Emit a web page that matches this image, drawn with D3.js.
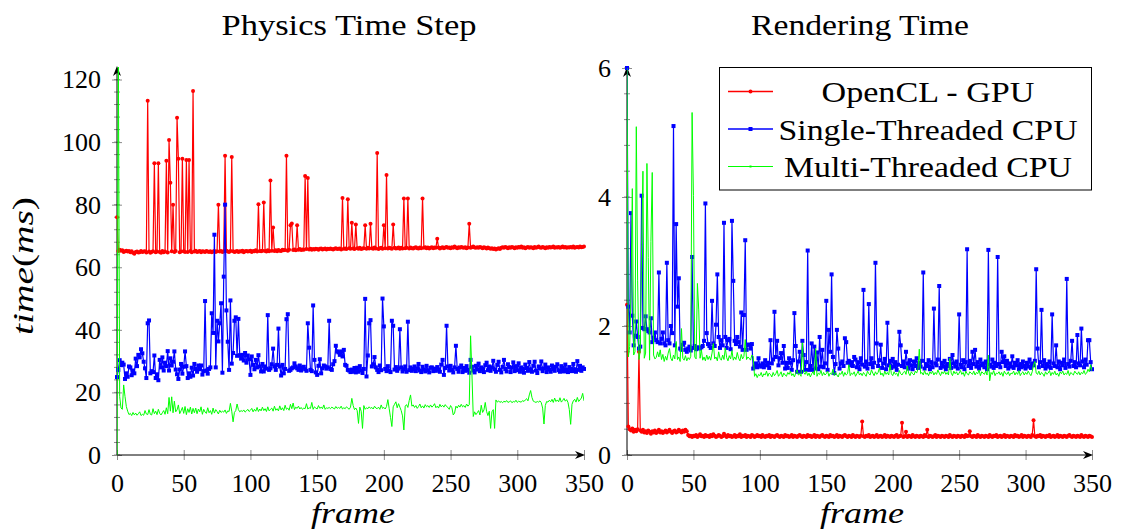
<!DOCTYPE html>
<html>
<head>
<meta charset="utf-8">
<script src="https://cdn.jsdelivr.net/npm/d3@7"></script>
<style>
  body { margin: 0; background: #fff; }
  svg { display: block; }
  svg text { font-family: 'Liberation Serif', 'Times New Roman', Times, 'DejaVu Serif', serif; font-size: 29px; fill: #000; }
</style>
</head>
<body>
<svg id="chart" width="1124" height="530"></svg>
<script>
// frame 0..350, one value per frame
const physGpu = [
  76,65.2,65.6,65.3,65.4,64.9,65.1,65.3,65.0,65.2,
  64.8,65.1,64.6,64.3,64.9,65.0,64.7,64.8,65.2,64.9,
  65.0,65.1,64.7,113.2,65.0,64.6,64.9,65.1,93.2,64.8,
  65.0,93.2,64.9,64.6,65.2,64.8,65.0,94.0,64.7,100.7,
  87.0,65.1,80.0,64.9,65.2,107.8,94.7,64.8,65.0,94.7,
  65.1,64.9,94.3,64.9,94.3,65.2,64.8,116.3,65.0,65.3,
  64.9,65.0,65.2,64.8,65.1,65.0,64.9,65.2,65.0,64.9,
  65.1,64.8,65.0,65.2,64.9,65.1,80.0,65.0,65.2,64.9,
  65.1,95.6,65.3,65.0,64.9,65.2,95.2,65.1,64.9,65.0,
  65.2,64.9,65.1,65.0,65.3,64.8,65.1,65.2,65.0,65.1,
  65.3,64.9,65.2,65.1,65.4,65.0,80.1,65.2,65.1,65.3,
  80.7,65.2,65.0,65.4,65.1,87.7,65.3,72.7,65.2,65.4,
  65.1,65.5,65.3,65.2,65.6,65.4,65.5,95.6,65.3,65.6,
  73.4,74.0,65.5,65.7,65.4,73.4,65.6,65.8,65.5,65.7,
  65.6,89.2,65.8,88.5,65.7,65.9,65.6,65.8,65.7,65.9,
  65.8,65.6,65.9,66.0,65.7,65.8,66.0,65.7,65.9,65.8,
  66.0,65.8,65.7,65.9,66.1,65.8,65.9,66.0,65.7,82.1,
  65.9,66.0,65.8,81.7,66.1,65.9,74.2,66.0,65.8,73.7,
  66.1,65.9,66.2,65.8,66.0,66.1,73.4,65.9,66.2,66.0,
  73.9,66.1,65.9,66.3,66.0,96.5,65.8,66.1,66.2,65.9,
  73.4,66.1,89.5,66.0,66.2,66.1,65.9,73.7,66.2,66.0,
  66.1,66.3,65.9,66.2,66.0,82.0,66.1,66.2,82.0,66.0,
  66.3,66.1,66.0,66.2,66.4,66.1,66.0,66.3,66.1,82.0,
  66.2,66.4,66.1,66.3,66.0,66.2,66.4,66.1,66.3,66.2,
  69.1,66.3,66.0,66.2,66.4,66.1,66.3,66.5,66.2,66.3,
  66.1,66.4,66.2,66.6,66.3,66.1,66.4,66.2,66.5,66.3,
  66.2,66.4,66.1,66.3,73.9,66.2,66.4,66.6,66.3,66.2,
  66.4,66.2,66.5,66.3,66.1,66.4,66.2,66.0,66.3,66.1,
  65.9,66.1,65.8,66.0,65.7,65.9,66.1,65.8,66.2,66.4,
  66.2,66.5,66.3,66.1,66.4,66.2,66.5,66.3,66.1,66.4,
  66.2,66.5,66.3,66.6,66.2,66.4,66.1,66.3,66.5,66.2,
  66.4,66.3,66.1,66.5,66.2,66.4,66.6,66.3,66.2,66.5,
  66.3,66.1,66.4,66.2,66.5,66.3,66.4,66.6,66.2,66.4,
  66.3,66.5,66.2,66.4,66.6,66.3,66.5,66.2,66.4,66.3,
  66.5,66.3,66.6,66.2,66.4,66.5,66.3,66.6,66.4,66.5,
  66.6
];
const physSingle = [
  24.9,27.2,30.3,28.7,29.5,28.9,24.3,26.1,25.0,28.3,
  28.0,25.5,27.0,26.1,30.8,28.4,32.0,31.2,33.8,32.5,
  29.8,27.7,24.6,42.1,43.0,26.1,26.8,26.5,31.8,24.6,
  25.8,23.9,30.4,28.0,31.2,27.0,29.5,28.4,33.2,27.0,
  30.9,28.6,29.8,33.1,27.3,25.8,24.3,27.3,29.1,26.0,
  28.2,33.1,28.4,24.6,26.1,25.0,27.9,25.4,29.1,27.5,
  26.6,28.6,27.4,28.6,25.7,26.8,49.2,27.0,26.0,27.5,
  28.0,45.3,39.0,70.4,28.0,42.9,36.3,42.1,48.5,26.3,
  57.0,80.0,46.2,36.2,27.2,49.4,29.2,32.6,42.9,44.0,
  31.7,43.5,31.9,30.8,32.0,30.2,32.6,29.5,31.8,30.6,
  25.6,31.5,28.8,27.4,30.4,28.0,31.9,28.3,26.7,29.1,
  26.7,28.3,27.6,44.7,27.2,27.7,29.0,34.0,28.3,27.2,
  28.8,40.4,28.3,25.4,28.8,26.1,27.5,43.4,45.0,26.9,
  27.2,27.7,28.0,29.3,28.3,27.7,27.2,28.6,27.0,27.9,
  28.2,27.4,26.9,42.1,34.3,27.2,26.8,47.8,30.4,26.4,
  25.6,28.5,30.6,26.1,27.7,28.6,28.3,27.6,28.0,42.9,
  27.5,27.2,29.0,30.0,34.9,33.1,32.8,32.0,33.1,31.5,
  33.6,28.8,28.5,27.2,27.0,26.5,27.3,26.6,27.8,26.4,
  27.9,26.6,28.4,27.1,26.2,27.5,49.9,25.1,31.8,42.1,
  43.1,28.3,29.0,31.3,28.0,27.2,26.5,28.6,27.1,50.0,
  41.1,27.5,26.8,28.4,27.0,26.5,42.9,41.3,27.3,28.1,
  26.9,27.6,40.2,28.0,26.7,27.4,28.3,26.6,42.6,27.1,
  28.0,26.9,27.5,28.3,26.8,27.7,29.1,27.0,26.5,28.2,
  27.3,26.7,28.5,27.1,26.4,27.9,28.0,26.8,27.6,26.9,
  28.1,27.4,26.6,28.9,30.4,25.6,27.8,41.3,28.3,27.0,
  28.5,27.2,26.4,28.0,34.9,27.5,26.6,27.9,28.6,26.5,
  27.8,26.9,28.4,27.2,26.3,30.4,28.2,27.0,26.4,28.5,
  27.3,29.2,26.8,28.0,27.5,26.5,28.7,29.5,27.1,28.3,
  26.9,28.0,30.1,27.4,26.6,28.8,29.8,27.2,26.4,28.2,
  30.4,27.5,26.7,29.0,28.1,26.5,27.9,29.6,26.8,28.4,
  27.1,29.3,26.6,28.0,27.5,26.3,28.9,27.8,26.9,29.7,
  27.4,26.6,28.5,29.8,27.0,26.2,28.3,27.6,29.9,26.8,
  27.7,28.9,26.5,28.0,27.3,26.6,28.6,27.5,26.9,28.2,
  29.0,27.1,26.6,28.4,27.8,26.7,28.9,27.3,26.5,28.1,
  27.6,26.8,29.1,27.4,26.6,30.0,27.2,28.5,26.9,28.0,
  27.5
];
const physMulti = [
  0,130,18.7,15.0,14.6,22.4,18.7,15.5,14.0,12.9,
  13.3,12.6,13.6,12.8,13.4,12.7,13.2,13.8,12.6,13.0,
  12.7,14.2,13.1,12.9,14.5,13.0,12.8,14.8,13.2,14.0,
  12.9,14.6,13.3,12.8,13.5,14.2,13.0,15.1,13.2,18.4,
  14.0,18.6,13.5,17.2,13.8,14.4,16.0,13.2,14.1,15.2,
  13.3,15.5,12.9,14.8,13.6,15.3,13.1,14.9,13.5,15.0,
  13.2,14.7,13.8,15.4,13.0,14.6,13.7,13.3,15.1,13.5,
  14.2,13.0,15.0,13.4,14.5,13.9,13.1,14.3,13.6,14.0,
  13.7,14.4,13.3,14.1,13.9,16.5,14.0,10.6,13.6,14.2,
  16.3,14.5,13.8,14.2,13.9,14.4,13.7,14.1,14.6,13.9,
  14.3,14.9,13.8,14.6,14.0,15.2,13.9,14.7,14.1,15.3,
  14.2,14.8,13.9,15.4,14.1,14.6,15.0,14.0,15.6,14.3,
  14.8,14.1,15.7,14.4,15.1,14.2,15.9,14.6,15.0,14.3,
  16.2,14.8,16.6,14.5,15.3,14.9,15.6,14.7,15.2,14.6,
  15.0,14.8,16.4,14.7,15.1,14.9,16.8,14.6,15.4,15.0,
  14.7,15.8,14.9,15.3,14.8,16.0,14.6,15.1,14.9,15.2,
  14.8,15.3,15.0,14.7,15.5,14.9,15.2,14.9,15.6,14.7,
  15.1,14.8,15.4,15.0,14.6,15.3,18.1,15.8,14.5,15.0,
  14.2,10.1,15.3,14.0,8.5,15.8,14.6,15.1,14.8,15.4,
  14.9,15.2,14.7,15.6,15.0,14.8,15.3,14.6,16.0,14.9,
  15.2,14.7,15.5,17.7,14.8,12.0,9.1,15.4,16.2,17.0,
  15.1,16.4,15.3,14.2,12.5,8.0,15.6,16.1,15.2,17.4,
  19.2,15.6,16.0,15.2,15.8,14.9,15.5,16.3,15.1,15.7,
  15.0,16.1,15.4,15.8,15.2,16.0,15.3,15.7,16.4,15.1,
  15.6,15.0,16.2,15.4,15.9,15.3,16.1,15.5,15.2,14.6,
  15.8,15.1,12.8,13.4,15.6,15.0,15.9,15.3,16.2,15.4,
  15.8,15.2,16.3,15.6,16.1,38.1,26.1,12.3,13.8,12.9,
  13.5,14.2,12.8,15.9,13.6,14.4,16.8,13.9,12.6,14.0,
  8.5,13.8,14.5,8.5,17.6,16.9,17.3,16.8,17.1,16.7,
  17.2,16.9,17.4,16.8,17.0,17.3,16.7,17.1,16.9,17.5,
  16.8,17.2,17.0,16.9,17.4,17.1,17.6,18.0,17.3,19.2,
  20.6,18.4,17.2,17.0,16.8,17.1,16.9,17.3,16.7,15.0,
  9.9,15.8,17.1,16.9,17.5,17.0,17.8,16.8,18.2,17.1,
  17.6,17.0,18.3,16.9,17.4,18.1,17.2,17.7,16.8,14.5,
  9.8,16.2,17.3,17.8,16.9,18.4,17.1,17.6,18.2,19.7,
  17.3
];
const rendGpu = [
  2.33,0.44,0.40,0.38,0.41,0.36,0.39,0.37,0.40,1.60,
  0.38,0.36,0.39,0.35,0.37,0.34,0.38,0.36,0.33,0.37,
  0.35,0.38,0.34,0.36,0.39,0.35,0.37,0.34,0.36,0.38,
  0.35,0.37,0.39,0.36,0.34,0.37,0.38,0.35,0.36,0.39,
  0.37,0.35,0.38,0.36,0.39,0.37,0.31,0.29,0.30,0.28,
  0.30,0.29,0.31,0.28,0.30,0.32,0.29,0.30,0.28,0.31,
  0.29,0.30,0.28,0.31,0.29,0.32,0.30,0.28,0.29,0.31,
  0.30,0.28,0.29,0.33,0.30,0.28,0.31,0.29,0.30,0.28,
  0.29,0.31,0.28,0.30,0.29,0.32,0.28,0.30,0.29,0.31,
  0.28,0.30,0.29,0.28,0.31,0.30,0.28,0.29,0.31,0.29,
  0.30,0.28,0.31,0.29,0.28,0.30,0.29,0.31,0.28,0.30,
  0.29,0.28,0.30,0.31,0.29,0.28,0.30,0.29,0.28,0.31,
  0.29,0.30,0.28,0.29,0.31,0.28,0.30,0.29,0.28,0.30,
  0.31,0.29,0.28,0.30,0.29,0.28,0.31,0.29,0.30,0.28,
  0.29,0.31,0.28,0.30,0.29,0.28,0.30,0.31,0.29,0.28,
  0.30,0.29,0.28,0.31,0.29,0.30,0.28,0.29,0.31,0.28,
  0.30,0.29,0.28,0.30,0.31,0.29,0.28,0.30,0.29,0.28,
  0.31,0.29,0.28,0.30,0.29,0.28,0.30,0.52,0.29,0.28,
  0.30,0.29,0.31,0.28,0.29,0.30,0.28,0.29,0.31,0.28,
  0.29,0.30,0.28,0.29,0.31,0.28,0.30,0.29,0.28,0.30,
  0.29,0.28,0.30,0.31,0.28,0.29,0.30,0.50,0.28,0.29,
  0.36,0.28,0.30,0.29,0.28,0.31,0.29,0.28,0.30,0.29,
  0.28,0.30,0.29,0.28,0.31,0.29,0.39,0.28,0.30,0.29,
  0.28,0.29,0.31,0.28,0.30,0.29,0.28,0.30,0.29,0.28,
  0.30,0.29,0.28,0.31,0.29,0.28,0.30,0.29,0.28,0.30,
  0.29,0.28,0.30,0.29,0.28,0.31,0.29,0.30,0.37,0.29,
  0.28,0.30,0.29,0.28,0.31,0.29,0.28,0.30,0.29,0.28,
  0.30,0.29,0.28,0.31,0.29,0.28,0.30,0.29,0.31,0.28,
  0.29,0.30,0.28,0.29,0.31,0.28,0.30,0.29,0.28,0.30,
  0.29,0.28,0.31,0.29,0.30,0.28,0.29,0.31,0.28,0.30,
  0.29,0.28,0.30,0.29,0.28,0.31,0.54,0.29,0.28,0.30,
  0.29,0.31,0.28,0.30,0.29,0.28,0.30,0.29,0.31,0.28,
  0.29,0.30,0.28,0.29,0.31,0.28,0.30,0.29,0.28,0.30,
  0.29,0.28,0.30,0.31,0.29,0.28,0.30,0.29,0.28,0.30,
  0.29,0.28,0.31,0.29,0.28,0.30,0.29,0.28,0.30,0.29,
  0.28
];
const rendSingle = [
  6.0,2.3,1.9,3.75,2.16,1.7,1.85,2.07,1.83,1.65,
  1.68,4.02,1.97,1.95,2.15,1.95,1.92,1.9,2.12,1.75,
  1.82,1.9,1.78,1.75,2.83,1.73,1.8,1.9,1.73,1.7,
  2.98,1.78,1.73,2.0,1.89,5.1,1.7,3.58,2.3,2.74,
  1.65,1.63,1.71,1.74,1.63,1.6,1.65,1.68,1.62,3.07,
  1.66,1.69,1.64,1.67,1.66,1.65,1.67,1.69,1.77,3.9,
  1.89,1.72,1.69,1.66,2.39,1.73,1.69,2.02,2.8,1.83,
  1.66,1.78,1.7,3.6,1.83,1.66,1.78,1.8,1.64,3.63,
  2.7,1.77,1.72,1.83,1.75,1.68,2.21,1.63,2.17,3.33,
  1.63,1.71,1.71,1.65,1.72,1.34,1.37,1.42,1.36,1.5,
  1.39,1.37,1.42,1.36,1.47,1.39,1.43,1.35,1.78,1.42,
  1.48,2.22,1.52,1.77,1.39,1.5,1.58,1.43,1.69,1.34,
  1.43,1.35,1.5,1.43,1.32,1.47,2.2,1.69,1.29,1.45,
  1.6,1.29,1.77,1.55,1.32,1.44,3.17,1.32,1.38,1.73,
  1.32,1.68,1.34,1.59,1.33,1.83,1.37,1.63,1.36,1.42,
  2.39,1.32,1.94,1.6,2.8,1.52,1.27,1.41,1.94,1.65,
  1.34,1.42,1.45,1.38,1.81,1.75,1.43,1.46,1.39,1.44,
  1.38,1.52,1.48,1.36,1.44,1.33,1.5,1.4,2.56,1.37,
  1.45,1.34,2.34,1.41,1.5,1.36,1.43,2.98,1.73,1.38,
  1.47,1.71,1.35,1.42,1.49,1.33,2.05,1.39,1.46,1.35,
  1.49,1.37,1.44,1.32,1.4,1.91,1.7,1.38,1.45,1.36,
  1.6,1.42,1.34,1.47,1.39,1.33,1.45,1.38,1.5,1.35,
  1.43,1.37,1.46,2.83,1.34,1.41,1.38,1.47,1.33,1.44,
  1.36,2.27,1.42,1.39,1.48,2.62,1.35,1.43,1.37,1.46,
  1.33,1.41,1.38,1.49,1.35,1.55,1.42,1.37,1.45,1.34,
  2.18,1.4,1.36,1.47,1.33,1.44,3.19,1.38,1.46,1.35,
  1.6,1.41,1.63,1.37,1.44,1.34,1.48,1.39,1.42,1.36,
  1.45,1.33,3.18,1.4,1.37,1.48,1.35,1.43,1.38,3.07,
  1.41,1.36,1.6,1.44,1.53,1.38,1.46,1.34,1.42,1.37,
  1.53,1.35,1.43,1.39,1.47,1.33,1.41,1.36,1.45,1.38,
  1.34,1.43,1.37,1.48,1.35,1.42,1.39,1.46,2.88,1.65,
  1.36,1.44,2.25,1.38,1.47,1.34,1.41,1.37,1.45,1.35,
  2.18,1.42,1.38,1.7,1.36,1.45,1.33,1.43,1.39,1.48,
  1.35,2.73,1.41,1.37,1.46,1.77,1.38,1.44,1.36,1.86,
  1.42,1.39,1.96,1.45,1.36,1.48,1.4,1.78,1.78,1.44,
  1.33
];
const rendMulti = [
  6.0,1.52,1.68,2.5,4.13,1.55,1.6,5.09,2.7,1.48,
  1.62,3.26,4.4,1.5,1.58,4.52,3.06,1.47,3.31,4.38,
  1.55,1.49,1.51,1.6,1.52,1.63,1.48,1.56,1.45,1.53,
  1.47,1.58,1.65,1.5,1.46,1.55,1.49,1.76,1.48,1.52,
  1.45,1.96,1.5,1.47,1.54,1.46,1.51,1.48,1.53,5.31,
  4.02,1.52,1.49,2.66,2.25,1.5,1.63,1.47,1.52,1.46,
  1.55,1.48,1.53,1.47,1.58,1.73,1.49,1.52,1.46,1.6,
  1.5,1.47,1.55,1.48,1.66,1.51,1.46,1.54,1.49,1.62,
  1.47,1.52,1.48,1.59,1.5,1.46,1.56,1.49,1.53,1.79,
  1.48,1.52,1.5,1.47,1.55,1.53,1.22,1.26,1.2,1.25,
  1.23,1.28,1.21,1.26,1.24,1.3,1.22,1.27,1.25,1.21,
  1.28,1.23,1.26,1.31,1.22,1.25,1.29,1.21,1.27,1.24,
  1.22,1.28,1.25,1.3,1.23,1.26,1.21,1.27,1.32,1.24,
  1.26,1.22,1.74,1.28,1.25,1.3,1.23,1.27,1.21,1.26,
  1.29,1.24,1.65,1.22,1.27,1.25,1.31,1.23,1.28,1.24,
  1.26,1.3,1.22,1.27,1.25,1.33,1.23,1.28,1.24,1.21,
  1.27,1.25,1.3,1.22,1.28,1.24,1.26,1.4,1.23,1.27,
  1.25,1.29,1.22,1.26,1.3,1.24,1.27,1.23,1.28,1.25,
  1.22,1.3,1.26,1.24,1.32,1.27,1.23,1.29,1.25,1.28,
  1.35,1.24,1.27,1.22,1.3,1.25,1.28,1.24,1.4,1.26,
  1.23,1.29,1.25,1.27,1.22,1.31,1.26,1.24,1.28,1.3,
  1.25,1.38,1.27,1.23,1.29,1.26,1.24,1.3,1.27,1.33,
  1.64,1.26,1.28,1.24,1.31,1.25,1.27,1.23,1.29,1.26,
  1.3,1.24,1.28,1.25,1.32,1.27,1.23,1.29,1.26,1.3,
  1.25,1.28,1.24,1.5,1.27,1.23,1.3,1.26,1.29,1.24,
  1.27,1.31,1.25,1.28,1.22,1.3,1.26,1.24,1.29,1.27,
  1.25,1.3,1.24,1.28,1.26,1.32,1.23,1.29,1.27,1.25,
  1.3,1.24,1.55,1.15,1.28,1.25,1.31,1.23,1.27,1.26,
  1.29,1.24,1.28,1.22,1.3,1.26,1.25,1.29,1.23,1.27,
  1.26,1.3,1.24,1.28,1.25,1.31,1.23,1.27,1.29,1.24,
  1.28,1.25,1.3,1.26,1.23,1.29,1.4,1.45,1.27,1.25,
  1.3,1.24,1.28,1.26,1.22,1.29,1.25,1.27,1.31,1.23,
  1.28,1.25,1.3,1.24,1.27,1.22,1.29,1.26,1.3,1.24,
  1.27,1.25,1.31,1.23,1.28,1.26,1.24,1.3,1.27,1.25,
  1.29,1.24,1.28,1.26,1.31,1.25,1.27,1.33,1.29,1.4,
  1.3
];

const xTicks = [0, 50, 100, 150, 200, 250, 300, 350];
const physTicks = [0, 20, 40, 60, 80, 100, 120];
const rendTicks = [0, 2, 4, 6];
const seriesNames = ['OpenCL - GPU', 'Single-Threaded CPU', 'Multi-Threaded CPU'];
const seriesColors = ['#ff0000', '#0000ff', '#00ff00'];

const serif = "'Liberation Serif', 'Times New Roman', Times, 'DejaVu Serif', serif";
const tickFont = 26;
const svg = d3.select('#chart');
const axisY = 455;

function drawPanel(p) {
  const x = d3.scaleLinear().domain([0, 350]).range([p.left, p.right]);
  const y = d3.scaleLinear().domain([0, p.ymax]).range([axisY, p.top]);
  const g = svg.append('g');

  svg.append('clipPath').attr('id', 'clip-' + p.id)
    .append('rect')
    .attr('x', p.left).attr('y', p.top)
    .attr('width', p.right - p.left).attr('height', axisY - p.top);

  // minor ticks on y
  const minors = d3.range(0, p.minorMax + 1e-6, p.minorStep);
  g.append('g').selectAll('line').data(minors).join('line')
    .attr('x1', p.left - 3).attr('x2', p.left + 3)
    .attr('y1', (d) => y(d)).attr('y2', (d) => y(d))
    .attr('stroke', '#8c8c8c').attr('stroke-width', 1);

  // y axis with major ticks
  const ya = g.append('g').attr('transform', `translate(${p.left},0)`)
    .call(d3.axisLeft(y).tickValues(p.ticks).tickSize(5).tickPadding(11).tickFormat(d3.format('d')));
  ya.attr('font-family', serif);
  ya.select('.domain').remove();
  ya.selectAll('.tick line').attr('x1', 5).attr('stroke', '#8c8c8c');
  ya.selectAll('.tick text').style('font-size', tickFont + 'px');

  // x axis
  const xa = g.append('g').attr('transform', `translate(0,${axisY})`)
    .call(d3.axisBottom(x).tickValues(xTicks).tickSize(5).tickPadding(14));
  xa.attr('font-family', serif);
  xa.select('.domain').remove();
  xa.selectAll('.tick line').attr('y1', -5).attr('stroke', '#8c8c8c');
  xa.selectAll('.tick text').style('font-size', tickFont + 'px');

  // axis lines with arrow heads
  g.append('line').attr('x1', p.left).attr('x2', p.left).attr('y1', axisY).attr('y2', p.top + 3)
    .attr('stroke', '#000').attr('stroke-width', 1);
  g.append('line').attr('x1', p.left).attr('x2', p.right - 3).attr('y1', axisY).attr('y2', axisY)
    .attr('stroke', '#000').attr('stroke-width', 1);
  g.append('path')
    .attr('d', `M${p.left},${p.top - 1} L${p.left - 4},${p.top + 9} L${p.left},${p.top + 6} L${p.left + 4},${p.top + 9} Z`)
    .attr('fill', '#000');
  g.append('path')
    .attr('d', `M${p.right + 1},${axisY} L${p.right - 9},${axisY - 4} L${p.right - 6},${axisY} L${p.right - 9},${axisY + 4} Z`)
    .attr('fill', '#000');

  const line = d3.line().x((d, i) => x(i)).y((d) => y(d));
  const plot = svg.append('g');

  p.series.forEach((s, k) => {
    plot.append('path').datum(s)
      .attr('clip-path', `url(#clip-${p.id})`)
      .attr('d', line)
      .attr('fill', 'none')
      .attr('stroke', seriesColors[k])
      .attr('stroke-width', k === 2 ? 1 : 1.2)
      .attr('stroke-linejoin', 'round');
    const pts = s.map((v, i) => ({ i, v })).filter((d) => d.v <= p.ymax);
    if (k === 0) {
      plot.append('g').selectAll('circle').data(pts).join('circle')
        .attr('cx', (d) => x(d.i)).attr('cy', (d) => y(d.v)).attr('r', 2)
        .attr('fill', seriesColors[0]);
    } else if (k === 1) {
      plot.append('g').selectAll('rect').data(pts).join('rect')
        .attr('x', (d) => x(d.i) - 2).attr('y', (d) => y(d.v) - 2)
        .attr('width', 4).attr('height', 4)
        .attr('fill', seriesColors[1]);
    }
  });

  svg.append('text').attr('x', p.titleX).attr('y', 35).attr('text-anchor', 'middle')
    .attr('font-family', serif)
    .attr('textLength', p.titleLen).attr('lengthAdjust', 'spacingAndGlyphs')
    .text(p.title);
  svg.append('text').attr('x', p.frameX).attr('y', 523).attr('text-anchor', 'middle')
    .attr('font-family', serif)
    .attr('font-style', 'italic').attr('textLength', 84).attr('lengthAdjust', 'spacingAndGlyphs')
    .text('frame');
}

drawPanel({
  id: 'phys', left: 117, right: 584, top: 67, ymax: 124, ticks: physTicks,
  minorStep: 4, minorMax: 120, series: [physGpu, physSingle, physMulti],
  title: 'Physics Time Step', titleX: 349, titleLen: 255, frameX: 353
});
drawPanel({
  id: 'rend', left: 627, right: 1092, top: 68, ymax: 6, ticks: rendTicks,
  minorStep: 0.4, minorMax: 6, series: [rendGpu, rendSingle, rendMulti],
  title: 'Rendering Time', titleX: 860, titleLen: 218, frameX: 862
});

// y axis label
const yl = svg.append('text').attr('transform', 'translate(33,266) rotate(-90)')
  .attr('font-family', serif)
  .attr('text-anchor', 'middle').attr('textLength', 138).attr('lengthAdjust', 'spacingAndGlyphs');
yl.append('tspan').attr('font-style', 'italic').text('time');
yl.append('tspan').text('(');
yl.append('tspan').attr('font-style', 'italic').text('ms');
yl.append('tspan').text(')');

// legend
const legend = svg.append('g');
legend.append('rect').attr('x', 719.5).attr('y', 67.5).attr('width', 372).attr('height', 122.5)
  .attr('fill', '#fff').attr('stroke', '#000').attr('stroke-width', 1);
const legendRows = [91.5, 129, 166.5];
const legendLens = [213, 299, 288];
seriesNames.forEach((name, k) => {
  const ly = legendRows[k];
  legend.append('line').attr('x1', 728).attr('x2', 773).attr('y1', ly).attr('y2', ly)
    .attr('stroke', seriesColors[k]).attr('stroke-width', k === 2 ? 1 : 1.3);
  if (k === 0) {
    legend.append('circle').attr('cx', 750.5).attr('cy', ly).attr('r', 2).attr('fill', seriesColors[0]);
  } else if (k === 1) {
    legend.append('rect').attr('x', 748.5).attr('y', ly - 2).attr('width', 4).attr('height', 4).attr('fill', seriesColors[1]);
  } else {
    legend.append('rect').attr('x', 749.5).attr('y', ly - 1).attr('width', 2).attr('height', 2).attr('fill', seriesColors[2]);
  }
  legend.append('text').attr('x', 928).attr('y', ly + 10.5).attr('text-anchor', 'middle')
    .attr('font-family', serif)
    .attr('textLength', legendLens[k]).attr('lengthAdjust', 'spacingAndGlyphs')
    .text(name);
});
</script>
</body>
</html>
